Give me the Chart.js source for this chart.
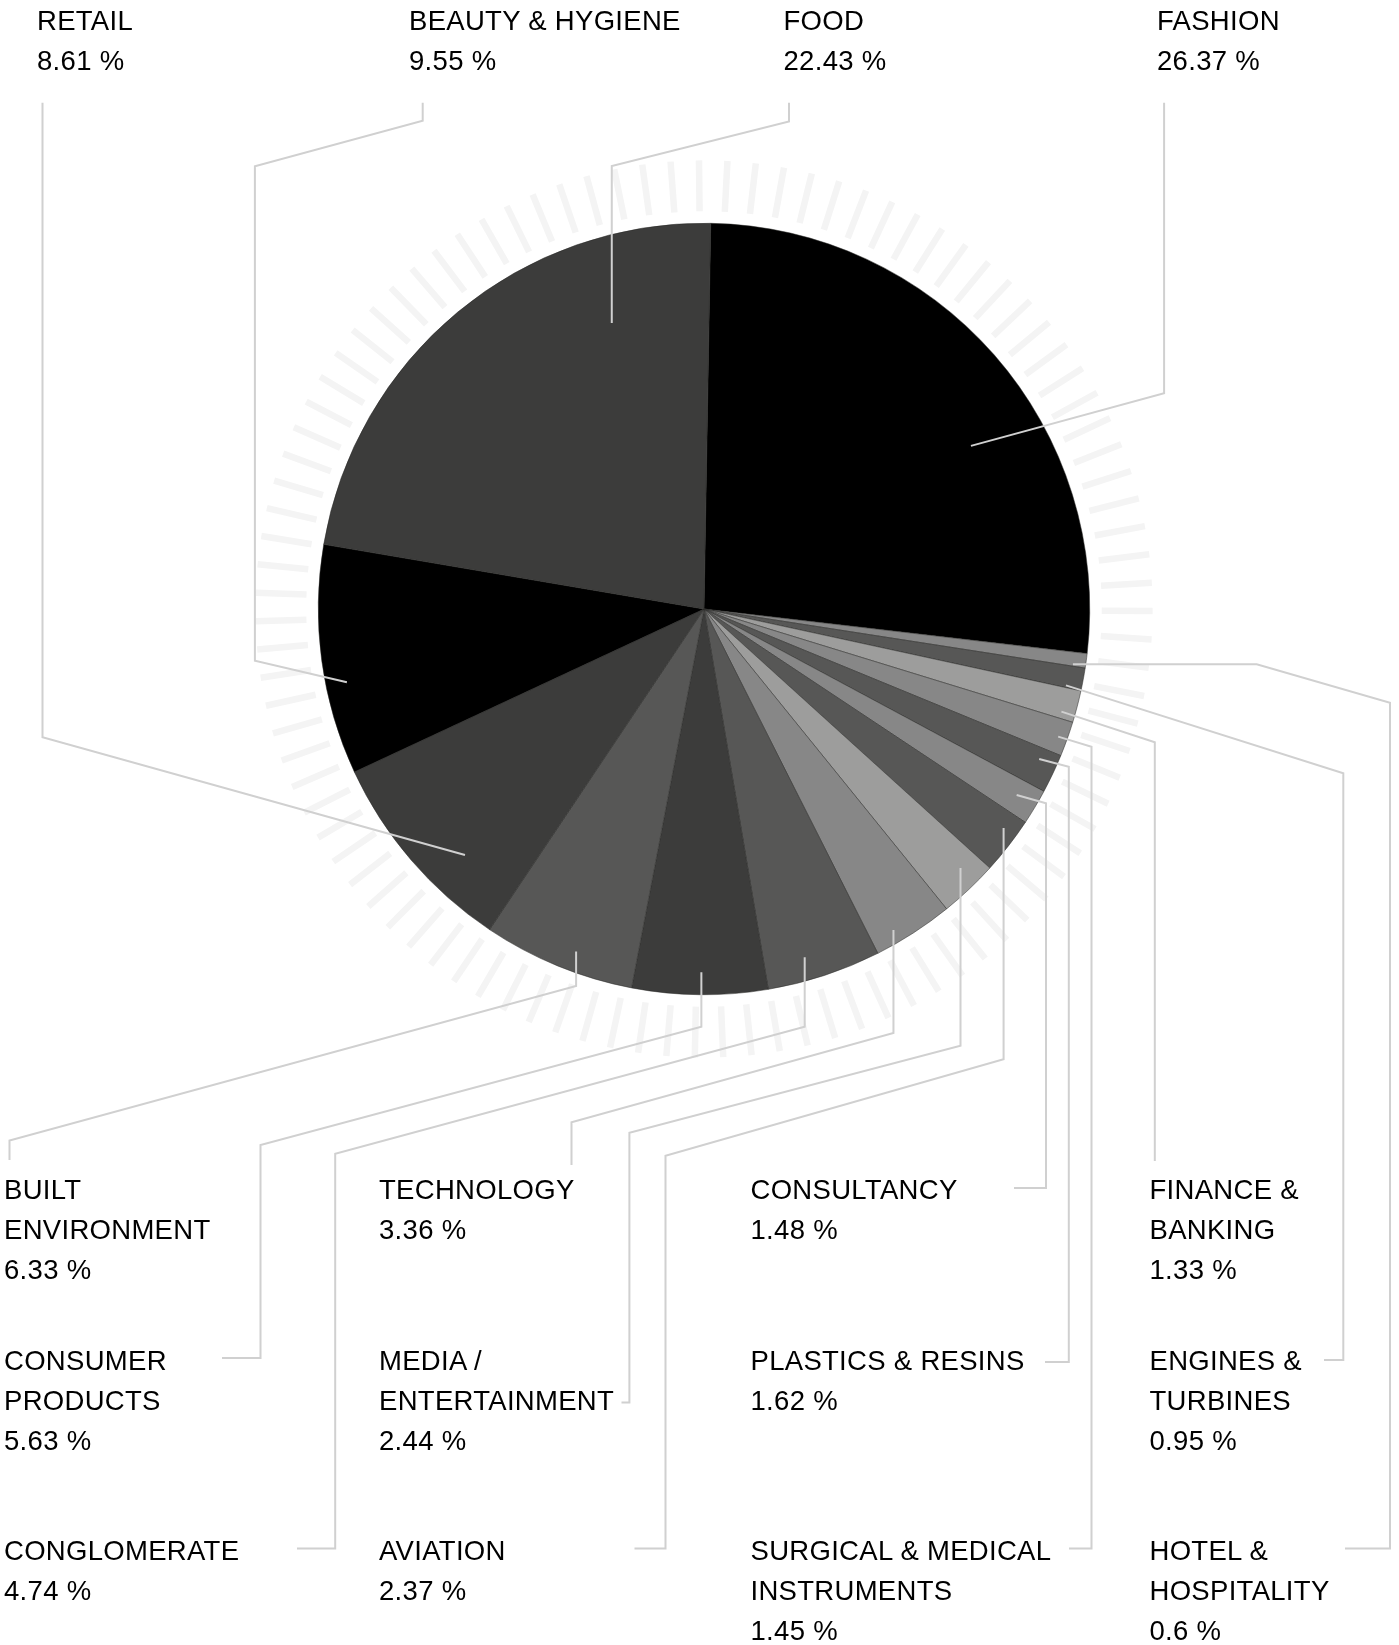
<!DOCTYPE html>
<html>
<head>
<meta charset="utf-8">
<script src="https://cdn.jsdelivr.net/npm/chart.js@4.4.1/dist/chart.umd.min.js"></script>
<style>
  html, body { margin: 0; padding: 0; background: #fff; }
  #wrap { position: relative; width: 1399px; height: 1645px; overflow: hidden; }
  #c { position: absolute; left: 0; top: 0; }
  .lbl { position: absolute; font-family: "Liberation Sans", Arial, sans-serif; font-size: 27.5px; letter-spacing: 0.3px; line-height: 40px; color: #000; }
</style>
</head>
<body>
<div id="wrap"><canvas id="c" width="1399" height="1645"></canvas></div>
<script>
// ---- data (clockwise from 12 o'clock) ----
const categories = ['FASHION', 'HOTEL & HOSPITALITY', 'ENGINES & TURBINES', 'FINANCE & BANKING',
  'SURGICAL & MEDICAL INSTRUMENTS', 'PLASTICS & RESINS', 'CONSULTANCY', 'AVIATION',
  'MEDIA / ENTERTAINMENT', 'TECHNOLOGY', 'CONGLOMERATE', 'CONSUMER PRODUCTS',
  'BUILT ENVIRONMENT', 'RETAIL', 'BEAUTY & HYGIENE', 'FOOD'];
const shares = [26.37, 0.6, 0.95, 1.33, 1.45, 1.62, 1.48, 2.37, 2.44, 3.36, 4.74, 5.63, 6.33, 8.61, 9.55, 22.43];
const sliceColors = ['#000000', '#878787', '#575756', '#9d9d9c', '#878787', '#575756', '#878787', '#575756',
  '#9d9d9c', '#878787', '#575756', '#3c3c3b', '#575756', '#3c3c3b', '#000000', '#3c3c3b'];

// ---- layout: label boxes, anchor inside slice (t = share of slice angle, f = share of radius), leader route ----
const LAYOUT = [
  { x: 1157, y: 1.2, w: 230, t: 0.602, f: 0.811, route: [['p', 1164.1, 393.3], ['v', 102.8]] },
  { x: 1149.5, y: 1531.2, w: 230, t: 0.86, f: 0.967, route: [['h', 1256.7], ['p', 1390, 702.7], ['v', 1548.5], ['h', 1345]] },
  { x: 1149.5, y: 1341.4, w: 230, t: 0.9, f: 0.959, route: [['p', 1343.3, 773.3], ['v', 1360], ['h', 1324]] },
  { x: 1149.5, y: 1170.4, w: 230, t: 0.78, f: 0.964, route: [['p', 1154.8, 742.3], ['v', 1161]] },
  { x: 750.5, y: 1531.2, w: 340, t: 0.52, f: 0.976, route: [['p', 1091.5, 746.7], ['v', 1548.5], ['h', 1069]] },
  { x: 750.5, y: 1341.4, w: 340, t: 0.30, f: 0.952, route: [['p', 1068.8, 766.7], ['v', 1362], ['h', 1045]] },
  { x: 750.5, y: 1170.4, w: 340, t: 0.47, f: 0.943, route: [['p', 1046, 803.3], ['v', 1188], ['h', 1014]] },
  { x: 379, y: 1531.2, w: 260, t: 0.30, f: 0.962, route: [['v', 1059.3], ['p', 665.5, 1155.8], ['v', 1548.5], ['h', 634.5]] },
  { x: 379, y: 1341.4, w: 260, t: 0.35, f: 0.945, route: [['v', 1045.7], ['p', 629.4, 1132.7], ['v', 1402.5], ['h', 621.5]] },
  { x: 379, y: 1170.4, w: 260, t: 0.69, f: 0.966, route: [['v', 1033], ['p', 571.5, 1122.2], ['v', 1165]] },
  { x: 4, y: 1531.2, w: 260, t: 0.62, f: 0.94, route: [['v', 1026.7], ['p', 335.2, 1153.7], ['v', 1548.5], ['h', 297]] },
  { x: 4, y: 1341.4, w: 260, t: 0.49, f: 0.942, route: [['v', 1026.7], ['p', 260.5, 1145], ['v', 1358], ['h', 222]] },
  { x: 4, y: 1170.4, w: 260, t: 0.42, f: 0.948, route: [['v', 985.9], ['p', 9.5, 1140.5], ['v', 1160]] },
  { x: 37, y: 1.2, w: 340, t: 0.333, f: 0.889, route: [['p', 42.5, 737.3], ['v', 102.8]] },
  { x: 409, y: 1.2, w: 340, t: 0.387, f: 0.945, route: [['p', 254.9, 660.7], ['v', 166.2], ['p', 422.7, 120.8], ['v', 102.8]] },
  { x: 783.5, y: 1.2, w: 340, t: 0.768, f: 0.779, route: [['v', 166], ['p', 789, 121.5], ['v', 102.8]] }
];
const RING = { count: 99, offsetDeg: -0.64, inner: 1.031, outer: 1.163, width: 6.5, color: '#f4f4f4' };
const LEADER = { color: '#d0d0d0', width: 2 };

// ---- labels as real text ----
const wrap = document.getElementById('wrap');
categories.forEach((name, i) => {
  const L = LAYOUT[i];
  const d = document.createElement('div');
  d.className = 'lbl';
  d.style.left = L.x + 'px';
  d.style.top = L.y + 'px';
  d.style.width = L.w + 'px';
  const n = document.createElement('div');
  n.textContent = name;
  const v = document.createElement('div');
  v.textContent = String(shares[i]) + ' %';
  d.appendChild(n); d.appendChild(v);
  wrap.appendChild(d);
});

const ringPlugin = {
  id: 'ring',
  beforeDatasetsDraw(chart) {
    const arc = chart.getDatasetMeta(0).data[0];
    if (!arc) return;
    const { x, y, outerRadius } = arc.getProps(['x', 'y', 'outerRadius'], true);
    const ctx = chart.ctx;
    ctx.save();
    ctx.strokeStyle = RING.color;
    ctx.lineWidth = RING.width;
    ctx.lineCap = 'butt';
    for (let k = 0; k < RING.count; k++) {
      const a = (RING.offsetDeg + k * 360 / RING.count) * Math.PI / 180 - Math.PI / 2;
      ctx.beginPath();
      ctx.moveTo(x + Math.cos(a) * outerRadius * RING.inner, y + Math.sin(a) * outerRadius * RING.inner);
      ctx.lineTo(x + Math.cos(a) * outerRadius * RING.outer, y + Math.sin(a) * outerRadius * RING.outer);
      ctx.stroke();
    }
    ctx.restore();
  }
};

const leaderPlugin = {
  id: 'leaders',
  afterDatasetsDraw(chart) {
    const ctx = chart.ctx;
    const arcs = chart.getDatasetMeta(0).data;
    ctx.save();
    ctx.strokeStyle = LEADER.color;
    ctx.lineWidth = LEADER.width;
    ctx.lineJoin = 'miter';
    arcs.forEach((arc, i) => {
      const L = LAYOUT[i];
      if (!L) return;
      const p = arc.getProps(['x', 'y', 'startAngle', 'endAngle', 'outerRadius'], true);
      const a = p.startAngle + L.t * (p.endAngle - p.startAngle);
      let cx = p.x + Math.cos(a) * p.outerRadius * L.f;
      let cy = p.y + Math.sin(a) * p.outerRadius * L.f;
      ctx.beginPath();
      ctx.moveTo(cx, cy);
      L.route.forEach(s => {
        if (s[0] === 'v') cy = s[1];
        else if (s[0] === 'h') cx = s[1];
        else { cx = s[1]; cy = s[2]; }
        ctx.lineTo(cx, cy);
      });
      ctx.stroke();
    });
    ctx.restore();
  }
};

new Chart(document.getElementById('c'), {
  type: 'pie',
  data: {
    labels: categories,
    datasets: [{
      data: shares,
      backgroundColor: sliceColors,
      borderColor: '#2a2a29',
      borderWidth: 0.5,
      hoverOffset: 0
    }]
  },
  options: {
    responsive: false,
    devicePixelRatio: 1,
    animation: false,
    events: [],
    rotation: 1,
    layout: { padding: { left: 318, top: 223, right: 309, bottom: 650 } },
    plugins: { legend: { display: false }, tooltip: { enabled: false } }
  },
  plugins: [ringPlugin, leaderPlugin]
});
</script>
</body>
</html>
